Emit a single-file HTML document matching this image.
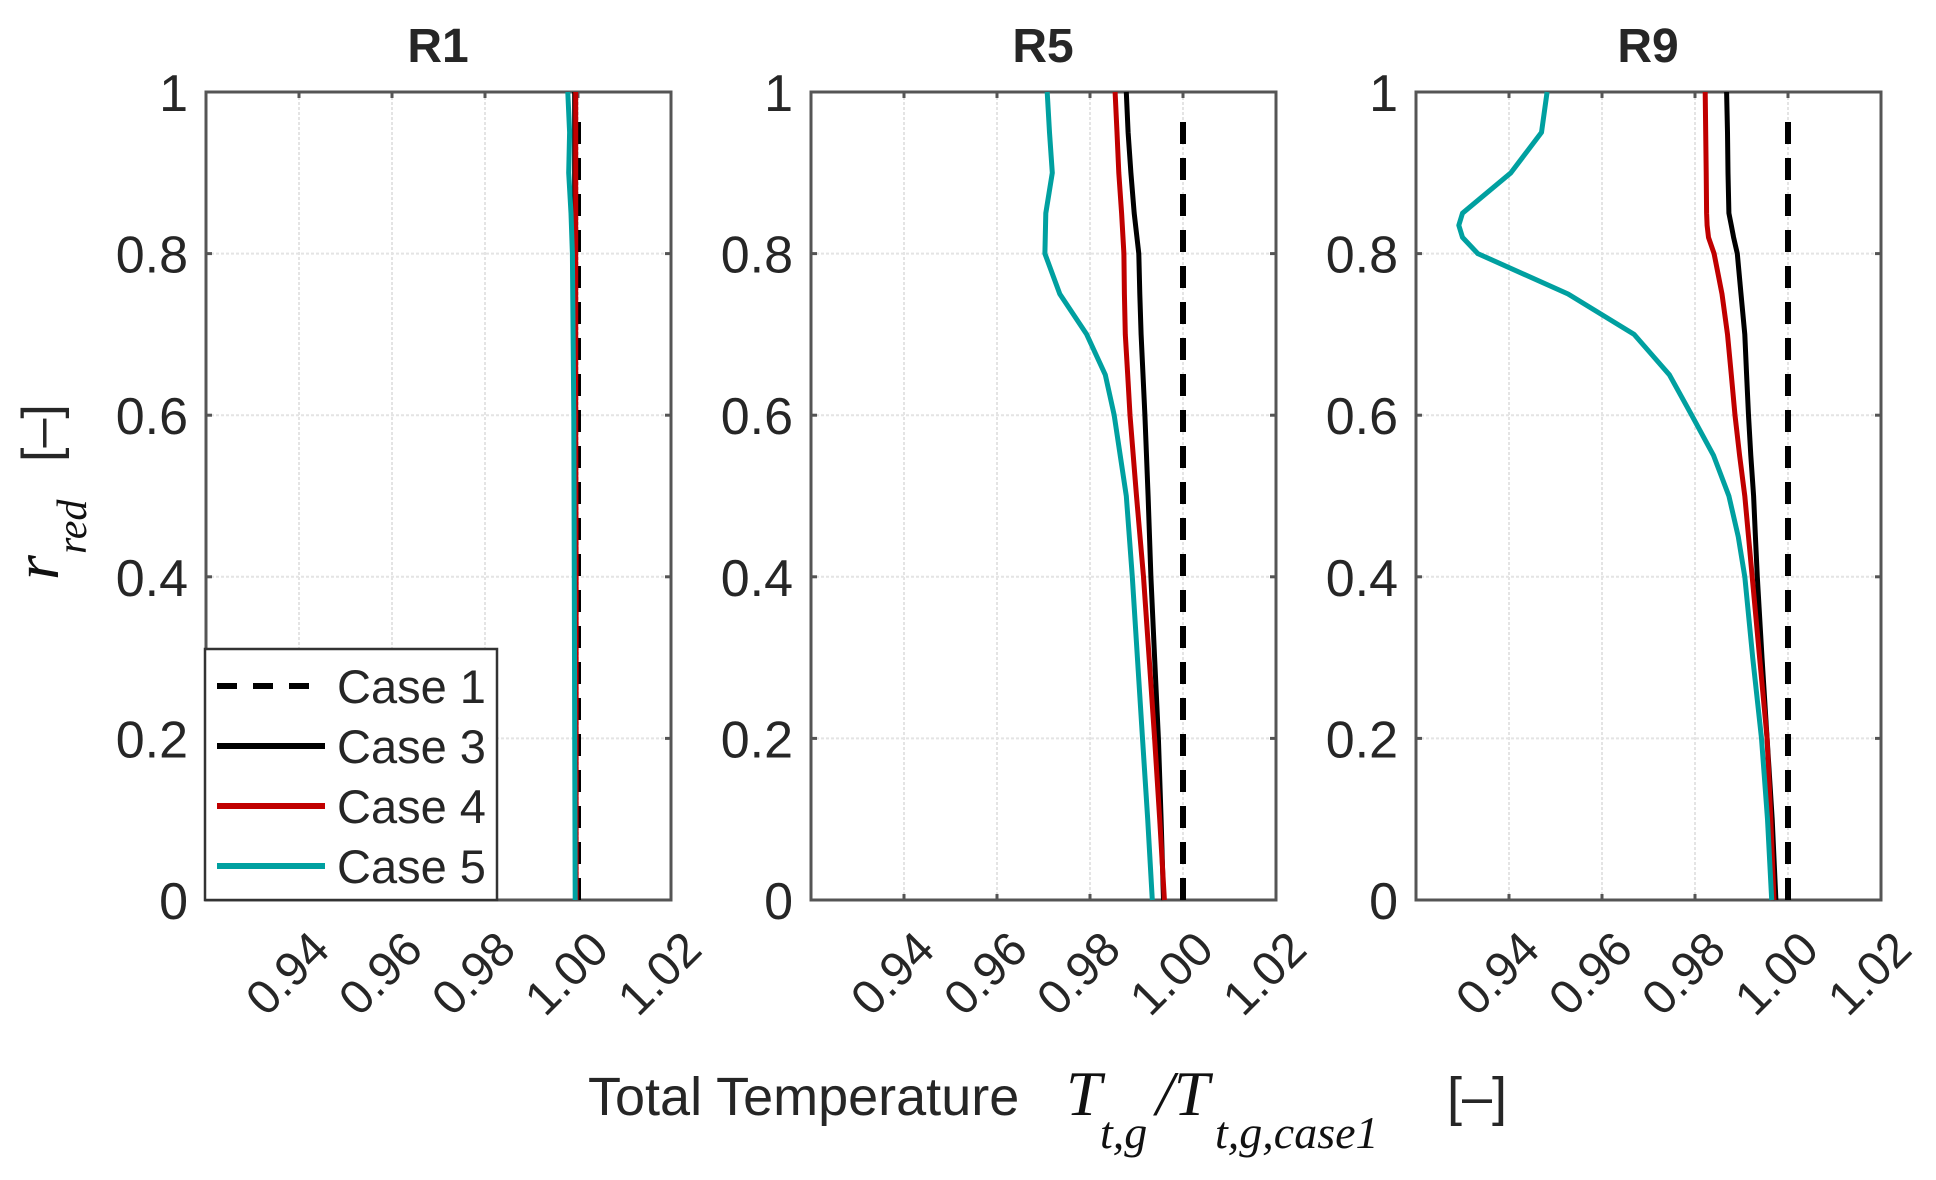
<!DOCTYPE html>
<html><head><meta charset="utf-8"><style>
html,body{margin:0;padding:0;background:#fff;}
svg{display:block;}
text{font-family:"Liberation Sans",sans-serif;fill:#262626;}
.serif{font-family:"Liberation Serif",serif;font-style:italic;fill:#111;}
</style></head><body>
<svg id="chart" width="1936" height="1180" viewBox="0 0 1936 1180" xmlns="http://www.w3.org/2000/svg">
<text x="438" y="62" font-size="48" font-weight="bold" text-anchor="middle" fill="#000">R1</text>
<text x="1043" y="62" font-size="48" font-weight="bold" text-anchor="middle" fill="#000">R5</text>
<text x="1648" y="62" font-size="48" font-weight="bold" text-anchor="middle" fill="#000">R9</text>
<g>
<text x="588" y="1115" font-size="54" fill="#222">Total Temperature</text>
<text class="serif" x="1066" y="1115" font-size="64">T</text>
<text class="serif" x="1100" y="1148" font-size="46">t,g</text>
<text class="serif" x="1156" y="1115" font-size="64">/T</text>
<text class="serif" x="1215" y="1148" font-size="46">t,g,case1</text>
<text x="1447" y="1115" font-size="54" fill="#222">[–]</text>
</g>
<g transform="translate(58,580) rotate(-90)">
<text class="serif" x="0" y="0" font-size="64">r</text>
<text class="serif" x="26" y="28" font-size="42">red</text>
<text x="118" y="0" font-size="52" fill="#222">[–]</text>
</g>
<g id="plots"></g>
</svg>
<script>
const xTicks=[0.94,0.96,0.98,1.00,1.02];
const xTickLabels=["0.94","0.96","0.98","1.00","1.02"];
const yTicks=[0,0.2,0.4,0.6,0.8,1];
const yTickLabels=["0","0.2","0.4","0.6","0.8","1"];
const panelNames=["R1","R5","R9"];
const seriesNames=["Case 1","Case 3","Case 4","Case 5"];
const rCase1=[0,0.965];
const valCase1=[1.0,1.0];
const r1Levels=[0,0.2,0.4,0.6,0.8,0.85,0.9,0.95,1];
const r1Case3=[0.9995,0.9995,0.9994,0.9994,0.9993,0.9993,0.9993,0.9993,0.9993];
const r1Case4=[0.9996,0.9996,0.9996,0.9995,0.9995,0.9995,0.9995,0.9995,0.9995];
const r1Case5=[0.9994,0.9993,0.9992,0.9991,0.9988,0.9985,0.9980,0.9982,0.9978];
const r5Levels=[0,0.1,0.2,0.3,0.4,0.5,0.6,0.65,0.7,0.75,0.8,0.85,0.9,0.95,1];
const r5Case3=[0.9958,0.9953,0.9947,0.9939,0.9931,0.9925,0.9918,0.9914,0.9910,0.9907,0.9905,0.9895,0.9888,0.9882,0.9878];
const r5Case4=[0.9960,0.9950,0.9939,0.9927,0.9915,0.9900,0.9886,0.9881,0.9876,0.9874,0.9873,0.9868,0.9862,0.9858,0.9854];
const r5Case5=[0.9934,0.9924,0.9913,0.9902,0.9891,0.9878,0.9852,0.9833,0.9793,0.9735,0.9703,0.9705,0.9719,0.9713,0.9708];
const r9Levels=[0,0.1,0.2,0.3,0.4,0.45,0.5,0.55,0.6,0.65,0.7,0.75,0.8,0.82,0.835,0.85,0.9,0.95,1];
const r9Case3=[0.9974,0.9966,0.9955,0.9944,0.9934,0.9930,0.9926,0.9920,0.9915,0.9911,0.9907,0.9899,0.9891,0.9883,0.9878,0.9873,0.9871,0.9870,0.9868];
const r9Case4=[0.9970,0.9963,0.9955,0.9939,0.9923,0.9915,0.9907,0.9896,0.9886,0.9878,0.9870,0.9858,0.9841,0.9829,0.9826,0.9825,0.9824,0.9823,0.9822];
const r9Case5=[0.9965,0.9956,0.9943,0.9924,0.9907,0.9893,0.9873,0.9840,0.9793,0.9745,0.9669,0.9527,0.9333,0.9300,0.9292,0.9300,0.9404,0.9470,0.9482];

const panelLeft=[206,811,1416];
const W=465, TOP=92, BOT=900;
const xMin=0.92,xMax=1.02;
const colors={c1:"#000",c3:"#000",c4:"#c00000",c5:"#00a0a0"};
const NS="http://www.w3.org/2000/svg";
const root=document.getElementById('plots');
function el(tag,attrs,parent){const e=document.createElementNS(NS,tag);for(const k in attrs)e.setAttribute(k,attrs[k]);(parent||root).appendChild(e);return e;}
function xs(p,v){return panelLeft[p]+(v-xMin)/(xMax-xMin)*W;}
function ys(v){return BOT-v*(BOT-TOP);}
function line(p,rs,vs,color,width,dash,name){
  let d="";for(let i=0;i<rs.length;i++){d+=(i?"L":"M")+xs(p,vs[i]).toFixed(1)+","+ys(rs[i]).toFixed(1);}
  const e=el('path',{d:d,fill:"none",stroke:color,"stroke-width":width,"stroke-linejoin":"round"});
  if(dash)e.setAttribute('stroke-dasharray',dash);
  
  
}
const panelData=[[r1Levels,r1Case3,r1Case4,r1Case5],[r5Levels,r5Case3,r5Case4,r5Case5],[r9Levels,r9Case3,r9Case4,r9Case5]];
for(let p=0;p<3;p++){
  const g=el('g',{});
  
  
  const L=panelLeft[p];
  el('rect',{x:L,y:TOP,width:W,height:BOT-TOP,fill:"#fff"},g);
  xTicks.forEach(t=>{const x=xs(p,t);
    const gl=el('line',{x1:x,x2:x,y1:TOP,y2:BOT,stroke:"#e4e4e4","stroke-width":2,"stroke-dasharray":"3,2"},g);
    });
  yTicks.forEach(t=>{const y=ys(t);
    const gl=el('line',{x1:L,x2:L+W,y1:y,y2:y,stroke:"#e4e4e4","stroke-width":2,"stroke-dasharray":"3,2"},g);
    });
  const d=panelData[p];
  line(p,rCase1,valCase1,colors.c1,6,"22,14",'series-case1-'+panelNames[p].toLowerCase());
  line(p,d[0],d[1],colors.c3,5,null,'series-case3-'+panelNames[p].toLowerCase());
  line(p,d[0],d[2],colors.c4,5,null,'series-case4-'+panelNames[p].toLowerCase());
  line(p,d[0],d[3],colors.c5,5,null,'series-case5-'+panelNames[p].toLowerCase());
  const fr=el('rect',{x:L,y:TOP,width:W,height:BOT-TOP,fill:"none",stroke:"#555","stroke-width":3},g);
  
  xTicks.forEach((t,i)=>{const x=xs(p,t);
    el('line',{x1:x,x2:x,y1:BOT,y2:BOT-6,stroke:"#555","stroke-width":3},g);
    el('line',{x1:x,x2:x,y1:TOP,y2:TOP+6,stroke:"#555","stroke-width":3},g);
    const tx=el('text',{x:0,y:0,"font-size":48,"text-anchor":"end",transform:`translate(${x+33},${BOT+52}) rotate(-45)`},g);
    tx.textContent=xTickLabels[i];
    });
  yTicks.forEach((t,i)=>{const y=ys(t);
    el('line',{x1:L,x2:L+6,y1:y,y2:y,stroke:"#555","stroke-width":3},g);
    el('line',{x1:L+W,x2:L+W-6,y1:y,y2:y,stroke:"#555","stroke-width":3},g);
    const ty=el('text',{x:L-18,y:y+19,"font-size":52,"text-anchor":"end"},g);
    ty.textContent=yTickLabels[i];
    });
}
const lg=el('g',{});


el('rect',{x:205,y:649,width:292,height:251,fill:"#fff",stroke:"#333","stroke-width":2.5},lg);
const legY=[686,746,806,866];
const legStyle=[[colors.c1,"20,16"],[colors.c3,null],[colors.c4,null],[colors.c5,null]];
seriesNames.forEach((n,i)=>{
  const ent=el('g',{},lg);
  
  
  const ln=el('line',{x1:217,x2:325,y1:legY[i],y2:legY[i],stroke:legStyle[i][0],"stroke-width":6},ent);
  if(legStyle[i][1])ln.setAttribute('stroke-dasharray',legStyle[i][1]);
  const t=el('text',{x:337,y:legY[i]+17,"font-size":47,fill:"#111"},ent);
  t.textContent=n;
});
</script>
</body></html>
